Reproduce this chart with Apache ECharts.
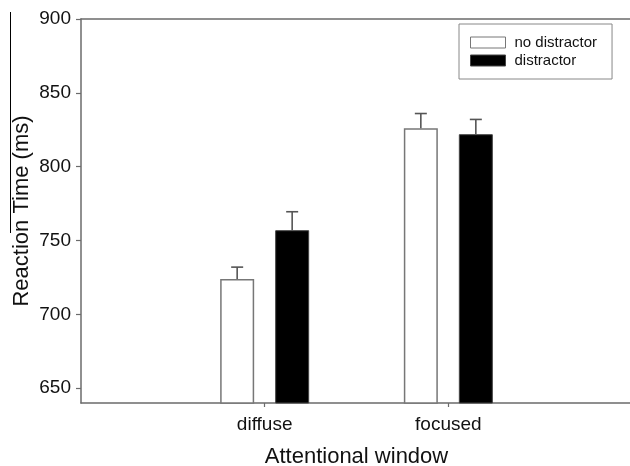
<!DOCTYPE html>
<html><head><meta charset="utf-8">
<script src="https://cdn.jsdelivr.net/npm/echarts@6/dist/echarts.min.js"></script>
<style>html,body{margin:0;padding:0;background:#fff}#c{width:630px;height:466px}</style>
</head><body><div id="c"></div>
<script>
// ---- data ----
const categories = ['diffuse', 'focused'];
const seriesNames = ['no distractor', 'distractor'];
const noDistractor = [724, 826];
const distractor = [757, 822];
const noDistractorErr = [8, 10];
const distractorErr = [12.5, 10];
const yTicks = [650, 700, 750, 800, 850, 900];
const yMin = 640, yMax = 900;
const xTitle = 'Attentional window';
const yTitle = 'Reaction Time (ms)';

// ---- style ----
const FONT = 'Liberation Sans, Arial, sans-serif';
const AXIS_C = '#6b6b6b';
const BAR_W = 34, BAR_GAP = 21;

const axisCats = [''].concat(categories, ['']);
const pad = arr => [null].concat(arr, [null]);

const errData = [];
noDistractor.forEach((v, i) => errData.push([i + 1, v, noDistractorErr[i], 0]));
distractor.forEach((v, i) => errData.push([i + 1, v, distractorErr[i], 1]));

const chart = echarts.init(document.getElementById('c'), null, {renderer: 'canvas'});
chart.setOption({
  animation: false,
  backgroundColor: '#fff',
  textStyle: {fontFamily: FONT},
  grid: {left: 81, top: 19, width: 551, bottom: 63, show: false, outerBoundsMode: 'none', containLabel: false},
  legend: {
    orient: 'vertical', left: 459, top: 24,
    padding: [11, 15, 11, 11],
    itemWidth: 35, itemHeight: 11, itemGap: 3,
    borderColor: '#888', borderWidth: 1, backgroundColor: '#fff',
    textStyle: {fontSize: 15, color: '#111', fontFamily: FONT, padding: [0, 0, 0, 4]},
    data: [
      {name: seriesNames[0], icon: 'rect', itemStyle: {color: '#fff', borderColor: '#777', borderWidth: 1}},
      {name: seriesNames[1], icon: 'rect', itemStyle: {color: '#000', borderColor: '#444', borderWidth: 1}}
    ]
  },
  xAxis: [{
    type: 'category', data: axisCats, boundaryGap: false,
    name: xTitle, nameLocation: 'middle', nameGap: 43, nameMoveOverlap: false,
    nameTextStyle: {fontSize: 22, color: '#111', fontFamily: FONT},
    axisLine: {lineStyle: {color: AXIS_C, width: 1.5}},
    axisTick: {show: true, length: 4, interval: (i, v) => v !== '', lineStyle: {color: AXIS_C, width: 1.2}},
    axisLabel: {fontSize: 19, color: '#111', margin: 12, fontFamily: FONT, interval: 0},
    splitLine: {show: false}
  }, {
    type: 'category', data: axisCats, boundaryGap: false, position: 'top',
    axisLine: {show: true, lineStyle: {color: AXIS_C, width: 1.5}},
    axisTick: {show: false}, axisLabel: {show: false}, splitLine: {show: false}
  }],
  yAxis: {
    type: 'value', min: yMin, max: yMax,
    name: yTitle, nameLocation: 'middle', nameGap: 48, nameMoveOverlap: false,
    nameTextStyle: {fontSize: 22, color: '#111', fontFamily: FONT},
    axisLine: {show: true, lineStyle: {color: AXIS_C, width: 1.5}},
    axisTick: {show: true, length: 5, customValues: yTicks, lineStyle: {color: AXIS_C, width: 1.2}},
    axisLabel: {fontSize: 19, color: '#111', margin: 10, customValues: yTicks, fontFamily: FONT},
    splitLine: {show: false}
  },
  series: [
    {name: seriesNames[0], type: 'bar', data: pad(noDistractor), barWidth: BAR_W, barGap: (BAR_GAP / BAR_W * 100) + '%',
     itemStyle: {color: '#fff', borderColor: '#777', borderWidth: 1.5}},
    {name: seriesNames[1], type: 'bar', data: pad(distractor), barWidth: BAR_W,
     itemStyle: {color: '#000', borderColor: '#444', borderWidth: 1}},
    {name: 'err', type: 'custom', data: errData, z: 5,
     encode: {x: 0, y: 1},
     renderItem: function (params, api) {
       const x = api.value(0), v = api.value(1), e = api.value(2), s = api.value(3);
       const off = (s === 0 ? -1 : 1) * (BAR_W + BAR_GAP) / 2;
       const p0 = api.coord([x, v]);
       const p1 = api.coord([x, v + e]);
       const cx = p0[0] + off;
       const st = {stroke: '#555', lineWidth: 1.6};
       return {type: 'group', children: [
         {type: 'line', shape: {x1: cx, y1: p0[1], x2: cx, y2: p1[1]}, style: st},
         {type: 'line', shape: {x1: cx - 6, y1: p1[1], x2: cx + 6, y2: p1[1]}, style: st}
       ]};
     }}
  ],
  graphic: [
    {type: 'line', shape: {x1: 10.5, y1: 12, x2: 10.5, y2: 233}, style: {stroke: '#000', lineWidth: 1}}
  ]
});
</script>
</body></html>
